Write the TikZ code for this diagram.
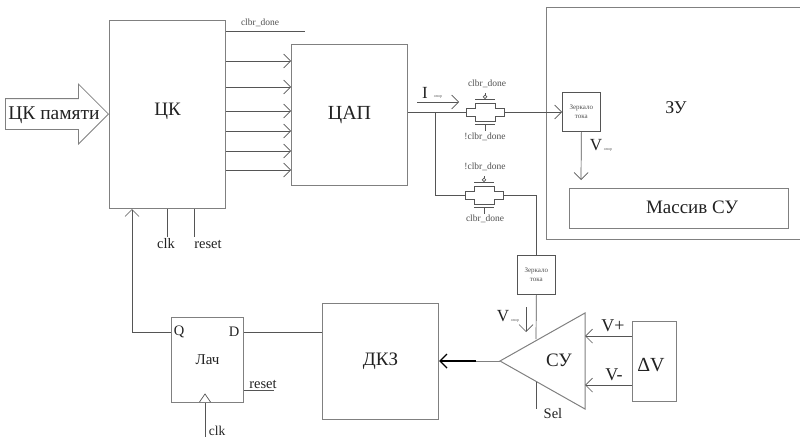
\documentclass[tikz,border=0pt]{standalone}
\usepackage{fontspec}
\setmainfont{Liberation Serif}
\usetikzlibrary{arrows.meta, positioning, shapes.arrows}
\definecolor{boxline}{HTML}{808080}
\definecolor{wireline}{HTML}{555555}
\definecolor{inktext}{HTML}{222222}
\definecolor{softtext}{HTML}{505050}

\begin{document}
\begin{tikzpicture}[
  x = 1pt, y = -1pt,
  box/.style     = {rectangle, draw=boxline, line width=1pt, anchor=north west, inner sep=0pt,
                    font=\fontsize{19}{19}\selectfont, text=inktext},
  mirror/.style  = {box, draw=wireline, line width=.7pt, minimum width=38pt, minimum height=39pt,
                    align=center, font=\fontsize{7}{8.5}\selectfont, text=softtext},
  wire/.style    = {draw=wireline, line width=.7pt},
  arrow/.style   = {wire, -{Straight Barb[length=7pt, width=14pt]}},
  big/.style     = {inner sep=0pt, font=\fontsize{18}{18}\selectfont, text=inktext},
  mid/.style     = {inner sep=0pt, font=\fontsize{14.5}{15}\selectfont, text=inktext},
  small/.style   = {inner sep=0pt, font=\fontsize{9.5}{10}\selectfont, text=softtext},
  opor/.style    = {inner sep=0pt, font=\fontsize{4}{4}\selectfont, text=softtext},
  tgate/.pic     = {
    \coordinate (-in) at (-19,0);
    \coordinate (-out) at (19,0);
    \draw[wire] (-19,-4) -- (-10,-4) -- (-10,-9) -- (10,-9) -- (10,-4) -- (19,-4) -- (19,4)
                -- (10,4) -- (10,9) -- (-10,9) -- (-10,4) -- (-19,4) -- cycle;
    \draw[wire] (-10,-13) -- (10,-13);
    \draw[wire] (0,-19) -- (0,-17.5);
    \draw[wire] (0,-15.2) circle (1.8);
    \draw[wire] (-10,12) -- (10,12);
    \draw[wire] (0,12) -- (0,19);
  },
]
  \useasboundingbox (0,0) rectangle (800,439);

  % main blocks
  \node[box, minimum width=116pt, minimum height=188pt, text depth=10pt] (ck) at (109,20) {ЦК};
  \node[box, minimum width=116pt, minimum height=141pt, font=\fontsize{20}{20}\selectfont] (dac) at (291,44) {ЦАП};
  \node[box, minimum width=116pt, minimum height=116pt] (dkz)   at (322,303) {ДКЗ};
  \node[box, minimum width=72pt,  minimum height=85pt, font=\fontsize{15}{15}\selectfont] (latch) at (171,317) {Лач};
  \node[box, minimum width=44pt,  minimum height=80pt, line width=.8pt] (delta) at (632,321) {};
  \node[big, font=\fontsize{20}{20}\selectfont] (deltalbl) at (651,365) {ΔV};

  % memory side
  \node[box, minimum width=262pt, minimum height=232pt] (mem) at (546,7) {};
  \node[big] (memlbl) at (676,108) {ЗУ};
  \node[box, minimum width=219pt, minimum height=40pt, line width=.8pt] (array) at (569,188) {};
  \node[big, font=\fontsize{19}{19}\selectfont] (arraylbl) at (692,207) {Массив СУ};
  \node[mirror] (mirtop) at (562,92)  {Зеркало\\тока};
  \node[mirror] (mirbot) at (517,255) {Зеркало\\тока};

  % input arrow
  \node[single arrow, draw=boxline, line width=.8pt, anchor=tip, minimum height=103pt, minimum width=59pt,
        single arrow head extend=14.5pt, inner ysep=15pt, inner xsep=0pt] (input) at (109,114) {};
  \node[inner sep=0pt, font=\fontsize{19.5}{20}\selectfont, text=inktext] (inputlbl) at (54,115) {ЦК памяти};

  % comparator
  \coordinate (cmptip) at (500,361);
  \coordinate (cmptop) at (585,313);
  \coordinate (cmpbot) at (585,409);
  \draw[draw=boxline, line width=1pt] (cmptip) -- (cmptop) -- (cmpbot) -- cycle;
  \node[big, font=\fontsize{19}{19}\selectfont] (cmplbl) at (559,360) {СУ};

  % transmission gates
  \pic (gatea) at (485,112) {tgate};
  \pic (gateb) at (484,195) {tgate};
  \node[small] (gatealbl)  at (487,84)  {clbr\_done};
  \node[small] (gateablw)  at (485,137) {!clbr\_done};
  \node[small] (gateblbl)  at (485,167) {!clbr\_done};
  \node[small] (gatebblw)  at (485,219) {clbr\_done};

  % wires round the converter
  \foreach \row in {61,87,111,131,151,170}
    \draw[arrow] (ck.east |- 0,\row) -- (dac.west |- 0,\row);
  \coordinate (doneend) at (305,31.5);
  \draw[wire] (ck.east |- doneend) -- (doneend);
  \node[small] (donelbl) at (260,23) {clbr\_done};

  \coordinate (split) at (435,112);
  \draw[wire] (dac.east |- split) -- (gatea-in);
  \draw[arrow] (gatea-out) -- (mirtop.west |- gatea-out);
  \draw[wire] (split) |- (gateb-in);
  \draw[wire] (gateb-out) -| (mirbot.north);

  \coordinate (ibeg) at (417,102);
  \coordinate (iend) at (459,102);
  \draw[arrow] (ibeg) -- (iend);
  \node[mid, font=\fontsize{17}{17}\selectfont] (ilbl) at (425,93) {I};
  \node[opor] (ioplbl) at (438,97) {опор};

  \coordinate (vtopend) at (581,180);
  \draw[arrow] (mirtop.south) -- (vtopend);
  \node[mid, font=\fontsize{17}{17}\selectfont] (vtoplbl) at (596,145) {V};
  \node[opor] (vtopop) at (608,150) {опор};

  % comparator wires
  \coordinate (sel) at (536,409);
  \coordinate (cmpin) at (536,339);
  \coordinate (cmpout) at (536,382);
  \draw[wire] (mirbot.south) -- (cmpin);
  \draw[wire] (cmpout) -- (sel);
  \node[mid] (sellbl) at (553,414) {Sel};

  \coordinate (vbotbeg) at (526,307);
  \coordinate (vbotend) at (526,332);
  \draw[arrow] (vbotbeg) -- (vbotend);
  \node[mid, font=\fontsize{17}{17}\selectfont] (vbotlbl) at (503,316) {V};
  \node[opor] (vbotop) at (515,321) {опор};

  \coordinate (vplus) at (585,336);
  \coordinate (vminus) at (585,385);
  \draw[arrow] (delta.west |- vplus) -- (vplus);
  \draw[arrow] (delta.west |- vminus) -- (vminus);
  \node[big] (vpluslbl)  at (613,326) {V+};
  \node[big] (vminuslbl) at (614,375) {V-};

  \coordinate (outbend) at (476,361);
  \draw[draw=boxline, line width=1pt] (cmptip) -- (outbend);
  \draw[-{Straight Barb[length=7pt, width=14pt]}, line width=1.4pt, draw=black] (outbend) -- (dkz.east |- outbend);

  % latch and feedback
  \node[mid] (qlbl) at (179,332) {Q};
  \node[mid] (dlbl) at (234,332) {D};
  \draw[wire] (latch.east |- dlbl) -- (dkz.west |- dlbl);
  \coordinate (fbk) at (132,332);
  \draw[wire] (latch.west |- qlbl) -- (fbk);
  \draw[arrow] (fbk) -- (fbk |- ck.south);

  \coordinate (clka) at (167,237);
  \coordinate (rsta) at (194,237);
  \draw[wire] (clka |- ck.south) -- (clka);
  \draw[wire] (rsta |- ck.south) -- (rsta);
  \node[mid] (clkalbl) at (166,244) {clk};
  \node[mid] (rstalbl) at (208,244) {reset};

  \coordinate (rstb) at (274,390);
  \draw[wire] (latch.east |- rstb) -- (rstb);
  \node[mid] (rstblbl) at (263,384) {reset};

  \coordinate (clkb) at (205,437);
  \draw[wire] (clkb |- latch.south) -- (clkb);
  \draw[wire] (199.5,402) -- (205,394) -- (210.5,402);
  \node[mid, font=\fontsize{13.5}{14}\selectfont] (clkblbl) at (217,431) {clk};
\end{tikzpicture}
\end{document}
